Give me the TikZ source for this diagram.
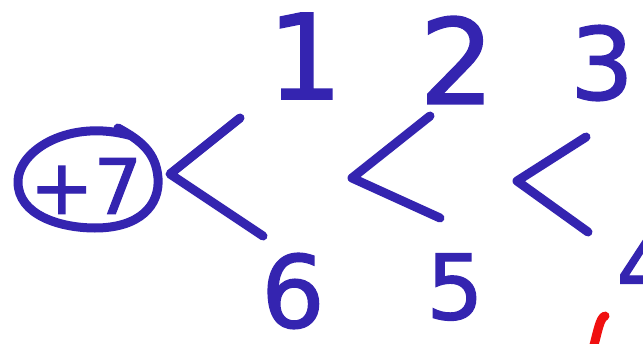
\documentclass[tikz,border=0pt]{standalone}
\usepackage{fontspec}
\setmainfont{DejaVu Sans}
\newfontfamily\inkfont[FakeBold=1.5]{DejaVu Sans}
\usepackage{tikz}
\usetikzlibrary{arrows.meta,positioning,calc}
\definecolor{Ink}{HTML}{3424B0}
\definecolor{Marker}{HTML}{F01010}
\begin{document}
\begin{tikzpicture}[x=1pt,y=-1pt,
  ink/.style={draw=Ink,line width=9pt,line cap=round,line join=round},
  digit/.style={text=Ink,inner sep=0pt,font=\inkfont\fontsize{118}{118}\selectfont}]
  \clip (0,0) rectangle (643,343);
  \fill[white] (0,0) rectangle (643,343);
  % the circled start value
  \node[text=Ink,inner sep=0pt,font=\inkfont\fontsize{76}{76}\selectfont] (start) at (86,186) {+7};
  \draw[ink] (132,136) .. controls (70,118) and (18,150) .. (18,182)
    .. controls (18,215) and (60,228) .. (95,228)
    .. controls (140,228) and (160,205) .. (158,178)
    .. controls (156,152) and (140,140) .. (118,128);
  % the chain of comparisons
  \coordinate (a1) at (240,118); \coordinate (v1) at (170,174); \coordinate (b1) at (263,236);
  \coordinate (a2) at (430,116); \coordinate (v2) at (352,178); \coordinate (b2) at (440,218);
  \coordinate (a3) at (586,137); \coordinate (v3) at (517,181); \coordinate (b3) at (588,232);
  \foreach \i in {1,2,3} \draw[ink] (a\i) -- (v\i) -- (b\i);
  % numbers above and below
  \node[digit] (one) at (305,56) {1};
  \node[digit] (two) at (457,60) {2};
  \node[digit,font=\inkfont\fontsize{100}{100}\selectfont] (three) at (602,63) {3};
  \node[digit,font=\inkfont\fontsize{100}{100}\selectfont] (six) at (293,291) {6};
  \node[digit,font=\inkfont\fontsize{90}{90}\selectfont] (five) at (455,287) {5};
  \node[digit,font=\inkfont\fontsize{90}{90}\selectfont] (four) at (645,266) {4};
  % red stroke at the bottom edge
  \draw[draw=Marker,line width=9pt,line cap=round] (594,345) .. controls (598,330) and (600,318) .. (605,316);
\end{tikzpicture}
\end{document}
